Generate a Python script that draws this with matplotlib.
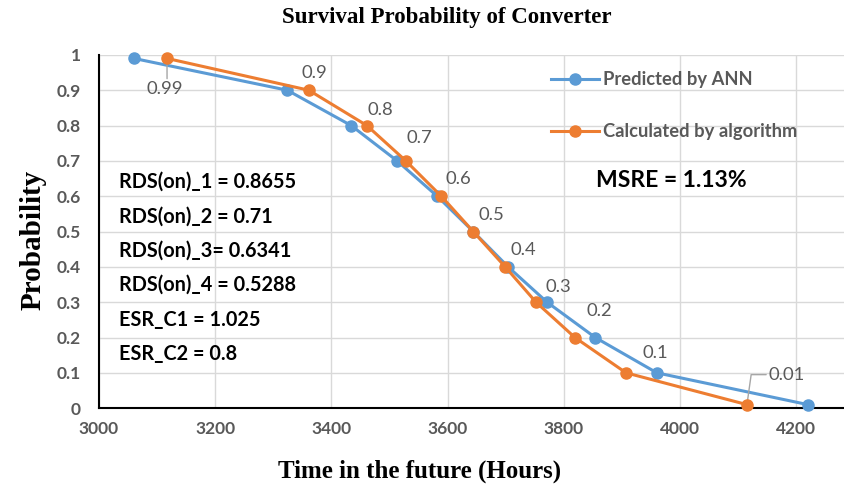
import matplotlib.pyplot as plt
from matplotlib.lines import Line2D

# data
prob = [0.99, 0.9, 0.8, 0.7, 0.6, 0.5, 0.4, 0.3, 0.2, 0.1, 0.01]
t_ann = [3060, 3324, 3434, 3513, 3582, 3644, 3704, 3771, 3854, 3960, 4220]
t_alg = [3117, 3361, 3461, 3528, 3589, 3644, 3699, 3752, 3819, 3907, 4115]
params = ["RDS(on)_1 = 0.8655", "RDS(on)_2 = 0.71", "RDS(on)_3= 0.6341",
          "RDS(on)_4 = 0.5288", "ESR_C1 = 1.025", "ESR_C2 = 0.8"]
x_ticks = [3000, 3200, 3400, 3600, 3800, 4000, 4200]
y_ticks = [0, 0.1, 0.2, 0.3, 0.4, 0.5, 0.6, 0.7, 0.8, 0.9, 1]

# label offsets in pixels (left edge, vertical centre) from each orange marker
lab_off = [(-20, -31), (-7, 17), (1, 16), (1, 23), (4, 17), (5, 17), (5, 17),
           (9, 15), (12, 27), (16, 20), (22, 30)]

blue = "#5B9BD5"
orange = "#ED7D31"
grey = "#595959"
sans = ["Lato", "DejaVu Sans"]
serif = ["Liberation Serif", "DejaVu Serif"]

fig = plt.figure(figsize=(8.44, 4.9), dpi=100)
ax = fig.add_axes([0.1173, 0.167, 0.8827, 0.721])

ax.plot(t_ann, prob, color=blue, lw=2.2, marker="o", ms=8, clip_on=False, zorder=3)
ax.plot(t_alg, prob, color=orange, lw=2.2, marker="o", ms=8, clip_on=False, zorder=4)

# data labels on the algorithm series
for x, y, (dx, dy) in zip(t_alg, prob, lab_off):
    kw = dict(textcoords="offset pixels", fontsize=13.3, color=grey, family=sans,
              ha="left", va="center")
    if y == 0.99:
        ax.annotate(f"{y:g}", (x, y), xytext=(dx, dy),
                    arrowprops=dict(arrowstyle="-", color="#A6A6A6", lw=1,
                                    relpos=(0.55, 1), shrinkA=0, shrinkB=5), **kw)
    elif y == 0.01:
        ax.annotate(f"{y:g}", (x, y), xytext=(dx, dy),
                    arrowprops=dict(arrowstyle="-", color="#A6A6A6", lw=1,
                                    relpos=(0, 0.5), shrinkA=0, shrinkB=0,
                                    connectionstyle="angle,angleA=0,angleB=82,rad=0"),
                    **kw)
    else:
        ax.annotate(f"{y:g}", (x, y), xytext=(dx, dy), **kw)

ax.set_xlim(3000, 4282)
ax.set_ylim(0, 1.0)
ax.set_xticks(x_ticks)
ax.set_yticks(y_ticks)
ax.set_xticklabels([str(v) for v in x_ticks], fontfamily=sans, fontweight="bold")
ax.set_yticklabels([f"{v:g}" for v in y_ticks], fontfamily=sans, fontweight="bold")
ax.grid(True, color="#D9D9D9", lw=1)
ax.set_axisbelow(True)
for s in ["top", "right"]:
    ax.spines[s].set_visible(False)
ax.spines["left"].set_linewidth(1.5)
ax.spines["bottom"].set_linewidth(1.5)
ax.tick_params(length=0, labelsize=12.5, labelcolor=grey)
ax.tick_params(axis="x", pad=9)
ax.tick_params(axis="y", pad=13)

fig.text(447 / 844, 1 - 18 / 490, "Survival Probability of Converter", family=serif,
         fontweight="bold", fontsize=16.5, ha="center", va="center")
fig.text(420 / 844, 1 - 471 / 490, "Time in the future (Hours)", family=serif,
         fontweight="bold", fontsize=18, ha="center", va="center")
fig.text(33 / 844, 1 - 240 / 490, "Probability", family=serif, fontweight="bold",
         fontsize=21, ha="center", va="center", rotation=90)

handles = [Line2D([], [], color=blue, lw=2.2, marker="o", ms=8),
           Line2D([], [], color=orange, lw=2.2, marker="o", ms=8)]
leg = ax.legend(handles, ["Predicted by ANN", "Calculated by algorithm"],
                loc="upper left", bbox_to_anchor=(0.585, 1.0), frameon=False,
                prop={"family": sans, "weight": "bold", "size": 13.2},
                handlelength=2.6, labelspacing=1.9, handletextpad=0.2)
for t in leg.get_texts():
    t.set_color(grey)

ax.text(3855, 0.645, "MSRE = 1.13%", family=sans, fontweight="bold", fontsize=16.5,
        ha="left", va="center")

for i, s in enumerate(params):
    ax.text(3035, 0.641 - i * 0.0976, s, family=sans, fontweight="bold", fontsize=14.3,
            ha="left", va="center")

fig.savefig("out.png", dpi=100)
